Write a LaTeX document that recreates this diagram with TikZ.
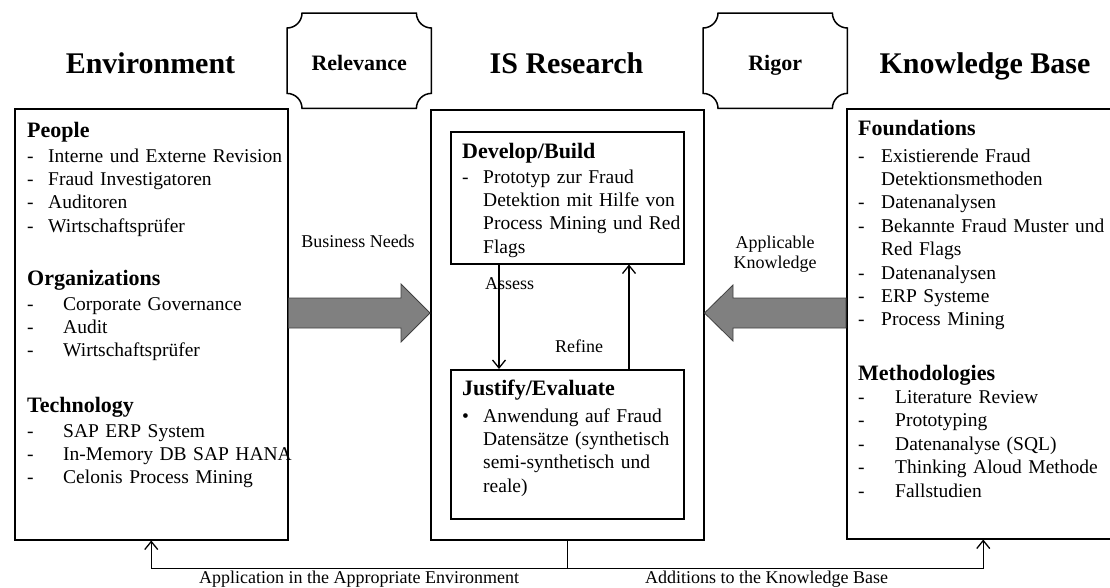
\documentclass[tikz,border=0pt]{standalone}
\usepackage{fontspec}
\setmainfont{Liberation Serif}
\usetikzlibrary{calc,arrows.meta}

% list helpers: dash/bullet item and continuation line
\newcommand\hd[1]{{\fontsize{22}{23.4}\selectfont\bfseries #1}}
\newcommand\di[2]{\makebox[#1][l]{-}#2}
\newcommand\bi[2]{\makebox[#1][l]{\textbullet}#2}
\newcommand\ci[2]{\hspace*{#1}#2}

% frame with concave (scalloped) corners around a node
\newcommand\scrollframe[1]{%
  \draw[frame] ($(#1.north west)+(15,0)$) -- ($(#1.north east)+(-15,0)$)
    .. controls ($(#1.north east)+(-15,8.3)$) and ($(#1.north east)+(-8.3,15)$) .. ($(#1.north east)+(0,15)$)
    -- ($(#1.south east)+(0,-15)$)
    .. controls ($(#1.south east)+(-8.3,-15)$) and ($(#1.south east)+(-15,-8.3)$) .. ($(#1.south east)+(-15,0)$)
    -- ($(#1.south west)+(15,0)$)
    .. controls ($(#1.south west)+(15,-8.3)$) and ($(#1.south west)+(8.3,-15)$) .. ($(#1.south west)+(0,-15)$)
    -- ($(#1.north west)+(0,15)$)
    .. controls ($(#1.north west)+(8.3,15)$) and ($(#1.north west)+(15,8.3)$) .. cycle;}

\tikzset{
  frame/.style={draw=black, line width=1.5pt},
  boxnode/.style={frame, anchor=north west, inner sep=0pt},
  plainbox/.style={anchor=north west, inner sep=0pt},
  title/.style={font=\fontsize{30}{34}\selectfont\bfseries, anchor=base, inner sep=0pt},
  tag/.style={font=\fontsize{22}{26}\selectfont\bfseries, anchor=base, inner sep=0pt},
  listtext/.style={font=\fontsize{19.5}{23.4}\selectfont, anchor=base west, inner sep=0pt,
                   text width=330pt, align=left},
  lbl/.style={font=\fontsize{18}{20}\selectfont, inner sep=0pt, anchor=base},
  flow/.style={draw=black, line width=1.3pt},
  tip/.style={-{Straight Barb[length=8pt,width=13pt,line width=1.3pt]}},
  bigarrow/.style={fill=black!50, draw=black!75, line width=0.8pt, line join=miter},
}

\begin{document}
\begin{tikzpicture}[x=1pt, y=-1pt]
\useasboundingbox (0,0) rectangle (1110,587);
\clip (0,0) rectangle (1110,587);

% column titles
\node[title] (tEnv) at (150.5,73) {Environment};
\node[title] (tIS)  at (566.5,73) {IS Research};
\node[title] (tKB)  at (985,73)   {Knowledge Base};

% Relevance / Rigor tags
\node[plainbox, minimum width=144pt, minimum height=95pt] (rel) at (287,13) {};
\node[plainbox, minimum width=144pt, minimum height=95pt] (rig) at (703,13) {};
\scrollframe{rel}
\scrollframe{rig}
\node[tag] (relT) at (rel.center |- 0,70) {Relevance};
\node[tag] (rigT) at (rig.center |- 0,70) {Rigor};

% main columns
\node[boxnode, minimum width=273pt, minimum height=431pt] (env) at (14,108)  {};
\node[boxnode, minimum width=273pt, minimum height=430pt] (ctr) at (430,109) {};
\node[boxnode, minimum width=273pt, minimum height=430pt] (kb)  at (846,108) {};

% research cycle
\node[boxnode, minimum width=233pt, minimum height=132pt] (dev) at (450,131) {};
\node[boxnode, minimum width=233pt, minimum height=149pt] (jus) at (450,369) {};

% Environment contents
\node[listtext] (envPeople) at (27,137) {\hd{People}\\[1.6pt]
  \di{21pt}{Interne und Externe Revision}\\
  \di{21pt}{Fraud Investigatoren}\\
  \di{21pt}{Auditoren}\\
  \di{21pt}{Wirtschaftsprüfer}};
\node[listtext] (envOrg) at (27,285) {\hd{Organizations}\\[1.6pt]
  \di{36pt}{Corporate Governance}\\
  \di{36pt}{Audit}\\
  \di{36pt}{Wirtschaftsprüfer}};
\node[listtext] (envTech) at (27,412) {\hd{Technology}\\[1.6pt]
  \di{36pt}{SAP ERP System}\\
  \di{36pt}{In-Memory DB SAP HANA}\\
  \di{36pt}{Celonis Process Mining}};

% IS Research contents
\node[listtext] (devT) at (462,158) {\hd{Develop/Build}\\[1.6pt]
  \di{21pt}{Prototyp zur Fraud}\\
  \ci{21pt}{Detektion mit Hilfe von}\\
  \ci{21pt}{Process Mining und Red}\\
  \ci{21pt}{Flags}};
\node[listtext] (jusT) at (462,395) {\hd{Justify/Evaluate}\\[3.6pt]
  \bi{21pt}{Anwendung auf Fraud}\\
  \ci{21pt}{Datensätze (synthetisch}\\
  \ci{21pt}{semi-synthetisch und}\\
  \ci{21pt}{reale)}};

% Knowledge Base contents
\node[listtext] (kbFound) at (858,135) {\hd{Foundations}\\[3.6pt]
  \di{23pt}{Existierende Fraud}\\
  \ci{23pt}{Detektionsmethoden}\\
  \di{23pt}{Datenanalysen}\\
  \di{23pt}{Bekannte Fraud Muster und}\\
  \ci{23pt}{Red Flags}\\
  \di{23pt}{Datenanalysen}\\
  \di{23pt}{ERP Systeme}\\
  \di{23pt}{Process Mining}};
\node[listtext] (kbMeth) at (858,380) {\hd{Methodologies}\\
  \di{37pt}{Literature Review}\\
  \di{37pt}{Prototyping}\\
  \di{37pt}{Datenanalyse (SQL)}\\
  \di{37pt}{Thinking Aloud Methode}\\
  \di{37pt}{Fallstudien}};

% assess / refine loop
\draw[flow, tip] ($(dev.south west)+(49,0)$) -- ($(jus.north west)+(49,0)$);
\draw[flow, tip] ($(jus.north west)+(179,0)$) -- ($(dev.south west)+(179,0)$);
\node[lbl, anchor=base west] (assess) at (485,289) {Assess};
\node[lbl, anchor=base west] (refine) at (555,352) {Refine};

% business needs and applicable knowledge
\draw[bigarrow] (env.east |- 0,298) -- (401,298) -- (401,284) -- (ctr.west |- 0,313)
  -- (401,342) -- (401,328) -- (env.east |- 0,328) -- cycle;
\draw[bigarrow] (kb.west |- 0,298) -- (733,298) -- (733,285) -- (ctr.east |- 0,313)
  -- (733,341) -- (733,328) -- (kb.west |- 0,328) -- cycle;
\node[lbl] (bn) at (358,247) {Business Needs};
\node[lbl, text width=120pt, align=center] (ak) at (775,248) {Applicable\\Knowledge};

% feedback to environment and knowledge base
\draw[flow] (ctr.south) -- ++(0,28) coordinate (split);
\draw[flow, tip] (split) -| (env.south);
\draw[flow, tip] (split) -| (kb.south);
\node[lbl, anchor=base west] (app) at (199,583) {Application in the Appropriate Environment};
\node[lbl, anchor=base west] (add) at (645,583) {Additions to the Knowledge Base};
\end{tikzpicture}
\end{document}
